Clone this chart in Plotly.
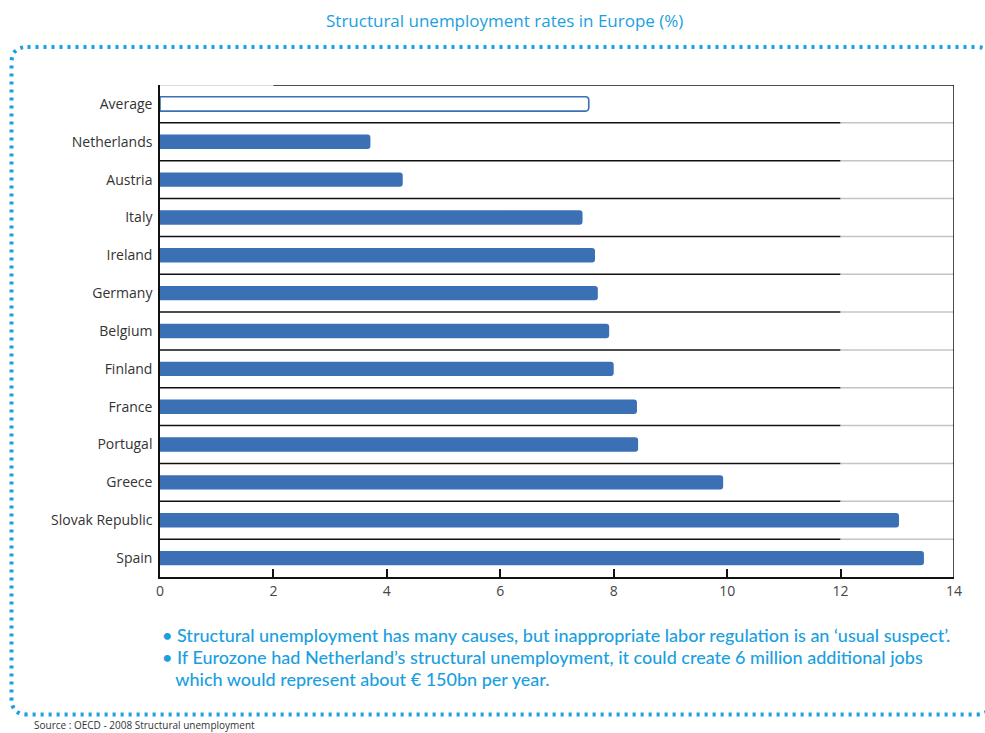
import plotly.graph_objects as go

# Structural unemployment rates, % (OECD 2008), listed top to bottom
countries = ["Average", "Netherlands", "Austria", "Italy", "Ireland", "Germany",
             "Belgium", "Finland", "France", "Portugal", "Greece",
             "Slovak Republic", "Spain"]
rates = [7.56, 3.71, 4.28, 7.45, 7.67, 7.72, 7.92, 8.0, 8.41, 8.43, 9.93, 13.03, 13.47]

x_ticks = [0, 2, 4, 6, 8, 10, 12, 14]

title_text = "Structural unemployment rates in Europe (%)"
bullet_lines = [
    "• Structural unemployment has many causes, but inappropriate labor regulation is an ‘usual suspect’.",
    "• If Eurozone had Netherland’s structural unemployment, it could create 6 million additional jobs",
    "   which would represent about € 150bn per year.",
]
source_text = "Source : OECD - 2008 Structural unemployment"

BLUE = "#3c70b5"
CYAN = "#1a9fe0"

FIG_W, FIG_H = 985, 733
M_L, M_R, M_T, M_B = 160, 31, 85, 156
PLOT_W = FIG_W - M_L - M_R
PLOT_H = FIG_H - M_T - M_B


def px(x):
    return (x - M_L) / PLOT_W


def py(y):
    return (FIG_H - M_B - y) / PLOT_H


n = len(countries)
is_avg = [c == "Average" for c in countries]

fig = go.Figure(
    go.Bar(
        x=rates,
        y=countries,
        orientation="h",
        width=0.38,
        marker=dict(
            color=["white" if a else BLUE for a in is_avg],
            line=dict(color=BLUE, width=[1.6 if a else 0 for a in is_avg]),
        ),
        hoverinfo="x+y",
    )
)

shapes = []
# separators between categories: dark up to 12, light grey beyond
for i in range(n - 1):
    yv = i + 0.5
    shapes.append(dict(type="line", xref="x", yref="y", x0=0, x1=12, y0=yv, y1=yv,
                       line=dict(color="#111111", width=1.5), layer="below"))
    shapes.append(dict(type="line", xref="x", yref="y", x0=12, x1=14, y0=yv, y1=yv,
                       line=dict(color="#c4c4c4", width=1.5), layer="below"))
# top frame line
shapes.append(dict(type="line", xref="x", yref="y", x0=0, x1=2, y0=-0.5, y1=-0.5,
                   line=dict(color="#d0d0d0", width=1.5)))
shapes.append(dict(type="line", xref="x", yref="y", x0=2, x1=14, y0=-0.5, y1=-0.5,
                   line=dict(color="#111111", width=1.5)))
# right frame line
shapes.append(dict(type="line", xref="x", yref="y", x0=14, x1=14, y0=-0.5, y1=n - 0.5,
                   line=dict(color="#111111", width=1.5)))

# dotted rounded panel
L, R, T, B, r = 11.5, 992, 47, 714.5, 16
path = (
    f"M {px(L + r)},{py(T)} L {px(R - r)},{py(T)} "
    f"Q {px(R)},{py(T)} {px(R)},{py(T + r)} "
    f"L {px(R)},{py(B - r)} Q {px(R)},{py(B)} {px(R - r)},{py(B)} "
    f"L {px(L + r)},{py(B)} Q {px(L)},{py(B)} {px(L)},{py(B - r)} "
    f"L {px(L)},{py(T + r)} Q {px(L)},{py(T)} {px(L + r)},{py(T)} Z"
)
shapes.append(dict(type="path", xref="paper", yref="paper", path=path,
                   line=dict(color=CYAN, width=4, dash="3px,5px"), layer="below"))

annotations = [
    dict(text=title_text, xref="paper", yref="paper", x=px(504), y=py(20),
         xanchor="center", yanchor="middle", showarrow=False,
         font=dict(family="Open Sans", size=17, color=CYAN, weight=500)),
    dict(text=source_text, xref="paper", yref="paper", x=px(32), y=py(725),
         xanchor="left", yanchor="middle", showarrow=False,
         font=dict(family="Open Sans", size=10, color="#333333")),
]
for k, line in enumerate(bullet_lines):
    annotations.append(dict(text=line, xref="paper", yref="paper", x=px(160),
                            y=py(635 + 22 * k), xanchor="left", yanchor="middle",
                            showarrow=False,
                            font=dict(family="Lato", size=18, color=CYAN, weight=500)))

fig.update_layout(
    width=FIG_W,
    height=FIG_H,
    margin=dict(l=M_L, r=M_R, t=M_T, b=M_B, pad=0),
    paper_bgcolor="white",
    plot_bgcolor="white",
    showlegend=False,
    barcornerradius=3,
    shapes=shapes,
    annotations=annotations,
    xaxis=dict(
        range=[0, 14],
        tickvals=x_ticks,
        ticks="inside",
        ticklen=8,
        tickwidth=1.5,
        tickcolor="#111111",
        showline=True,
        linecolor="#111111",
        linewidth=1.5,
        showgrid=False,
        zeroline=False,
        tickfont=dict(family="Open Sans", size=14, color="#444444"),
    ),
    yaxis=dict(
        type="category",
        categoryorder="array",
        categoryarray=countries,
        range=[n - 0.5, -0.5],
        ticks="",
        showline=True,
        linecolor="#111111",
        linewidth=1.5,
        showgrid=False,
        zeroline=False,
        ticklabelstandoff=3,
        tickfont=dict(family="Open Sans", size=14, color="#333333"),
    ),
)

fig.write_html("out.html")
